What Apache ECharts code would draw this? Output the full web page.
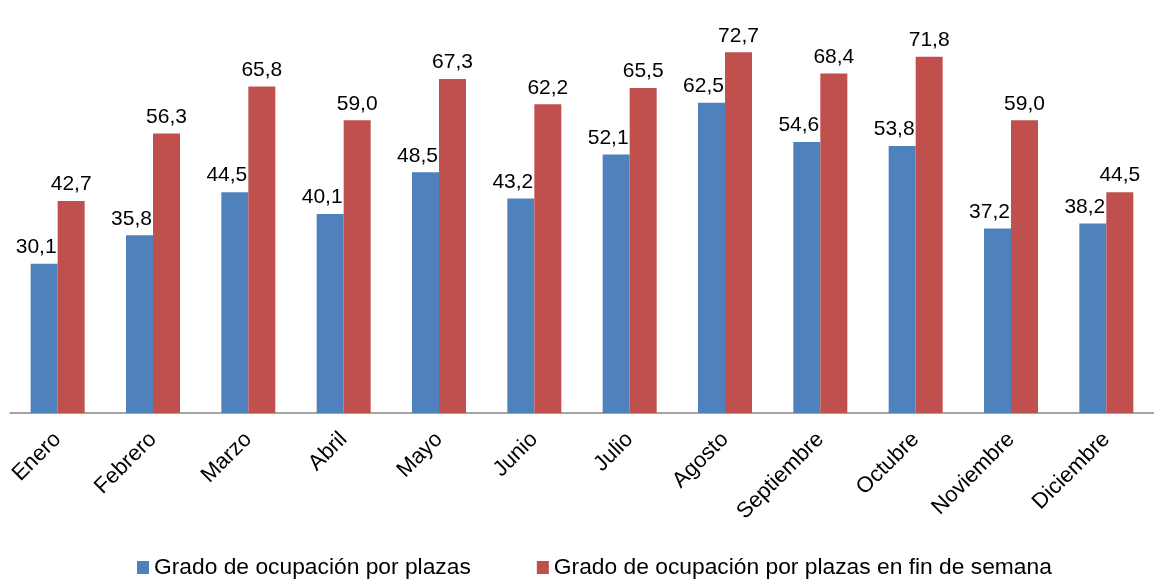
<!DOCTYPE html>
<html>
<head>
<meta charset="utf-8">
<script src="https://cdn.jsdelivr.net/npm/echarts@6/dist/echarts.min.js"></script>
<style>
  html, body { margin: 0; padding: 0; background: #fff; }
  #chart { width: 1154px; height: 579px; }
</style>
</head>
<body>
<div id="chart"></div>
<script>
// months on the x axis
const months = ['Enero', 'Febrero', 'Marzo', 'Abril', 'Mayo', 'Junio', 'Julio', 'Agosto', 'Septiembre', 'Octubre', 'Noviembre', 'Diciembre']
// occupancy by places (%)
const ocupacionPlazas = [30.1, 35.8, 44.5, 40.1, 48.5, 43.2, 52.1, 62.5, 54.6, 53.8, 37.2, 38.2]
// occupancy by places on weekends (%)
const ocupacionFinSemana = [42.7, 56.3, 65.8, 59.0, 67.3, 62.2, 65.5, 72.7, 68.4, 71.8, 59.0, 44.5]

const fontFamily = '"Liberation Sans", Arial, Helvetica, sans-serif'
const comma = p => p.value.toFixed(1).replace('.', ',')

const chart = echarts.init(document.getElementById('chart'))
chart.setOption({
  animation: false,
  textStyle: { fontFamily: fontFamily },
  legend: {
    left: 132,
    top: 551,
    icon: 'rect',
    itemWidth: 12,
    itemHeight: 13,
    itemGap: 66,
    textStyle: { fontSize: 22.8, color: '#000', fontFamily: fontFamily },
    data: ['Grado de ocupación por plazas', 'Grado de ocupación por plazas en fin de semana']
  },
  grid: {
    left: 10,
    width: 1160,
    top: 16,
    bottom: 166
  },
  xAxis: {
    type: 'category',
    data: months,
    axisLine: { lineStyle: { color: '#868686', width: 1.5 } },
    axisTick: { length: 8, lineStyle: { color: '#868686', width: 1.5 } },
    axisLabel: {
      rotate: 45,
      interval: 0,
      margin: 23,
      fontSize: 22,
      color: '#000',
      fontFamily: fontFamily
    }
  },
  yAxis: {
    type: 'value',
    min: 0,
    max: 80,
    show: false,
    splitLine: { show: false }
  },
  series: [
    {
      name: 'Grado de ocupación por plazas',
      type: 'bar',
      barWidth: 27,
      barGap: '0%',
      itemStyle: { color: '#4F81BD' },
      label: {
        show: true,
        position: 'top',
        distance: 6,
        offset: [-8, 0],
        fontSize: 21,
        color: '#000',
        fontFamily: fontFamily,
        formatter: comma
      },
      data: ocupacionPlazas
    },
    {
      name: 'Grado de ocupación por plazas en fin de semana',
      type: 'bar',
      barWidth: 27,
      barGap: '0%',
      itemStyle: { color: '#C0504D' },
      label: {
        show: true,
        position: 'top',
        distance: 6,
        fontSize: 21,
        color: '#000',
        fontFamily: fontFamily,
        formatter: comma
      },
      data: ocupacionFinSemana
    }
  ]
})
</script>
</body>
</html>
